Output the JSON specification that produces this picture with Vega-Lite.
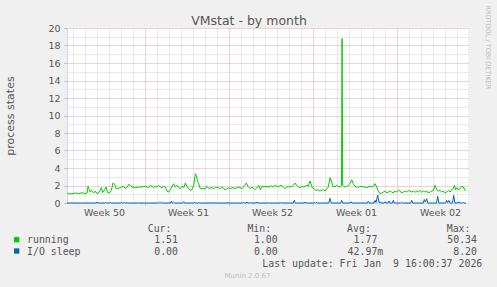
{
  "$schema": "https://vega.github.io/schema/vega-lite/v6.json",
  "width": 401,
  "height": 175,
  "autosize": "none",
  "padding": {"left": 67, "top": 28, "right": 29, "bottom": 84},
  "background": "#F0F0F0",
  "config": {"view": {"fill": "#FFFFFF", "stroke": null}, "font": "DejaVu Sans"},
  "layer": [
    {
      "data": {"values": [
        {"s":"running","h":0,"v":1.18},{"s":"running","h":3.4,"v":1.06},{"s":"running","h":10,"v":1.06},{"s":"running","h":16.6,"v":1.14},{"s":"running","h":23.4,"v":1.06},{"s":"running","h":30,"v":1.18},{"s":"running","h":36.6,"v":1.06},{"s":"running","h":40,"v":1.14},{"s":"running","h":42,"v":1.9},{"s":"running","h":46.6,"v":1.25},{"s":"running","h":48.6,"v":1.44},{"s":"running","h":53.4,"v":1.14},{"s":"running","h":56.6,"v":1.37},{"s":"running","h":60,"v":1.06},{"s":"running","h":64.6,"v":1.25},{"s":"running","h":68.6,"v":1.75},{"s":"running","h":71.4,"v":1.22},{"s":"running","h":75.4,"v":1.52},{"s":"running","h":78,"v":1.83},{"s":"running","h":81.4,"v":1.18},{"s":"running","h":84.6,"v":1.14},{"s":"running","h":88.6,"v":1.44},{"s":"running","h":92,"v":2.28},{"s":"running","h":95.4,"v":2.13},{"s":"running","h":98.6,"v":1.63},{"s":"running","h":103.4,"v":1.71},{"s":"running","h":107.4,"v":1.75},{"s":"running","h":110,"v":1.83},{"s":"running","h":113.4,"v":1.9},{"s":"running","h":116.6,"v":1.67},{"s":"running","h":120.6,"v":1.83},{"s":"running","h":123.4,"v":2.13},{"s":"running","h":126.6,"v":2.02},{"s":"running","h":130,"v":1.83},{"s":"running","h":136.6,"v":1.75},{"s":"running","h":143.4,"v":1.83},{"s":"running","h":150,"v":1.83},{"s":"running","h":156.6,"v":1.9},{"s":"running","h":163.4,"v":1.75},{"s":"running","h":166.6,"v":2.02},{"s":"running","h":170,"v":1.9},{"s":"running","h":173.4,"v":1.75},{"s":"running","h":176.6,"v":1.9},{"s":"running","h":180,"v":1.83},{"s":"running","h":183.4,"v":2.02},{"s":"running","h":186.6,"v":1.83},{"s":"running","h":190,"v":1.75},{"s":"running","h":193.4,"v":1.9},{"s":"running","h":196.6,"v":1.83},{"s":"running","h":200,"v":1.37},{"s":"running","h":203.4,"v":1.25},{"s":"running","h":206.6,"v":1.52},{"s":"running","h":210,"v":1.9},{"s":"running","h":213.4,"v":2.21},{"s":"running","h":216.6,"v":1.83},{"s":"running","h":220,"v":2.02},{"s":"running","h":223.4,"v":1.75},{"s":"running","h":226.6,"v":1.63},{"s":"running","h":230,"v":1.9},{"s":"running","h":233.4,"v":1.75},{"s":"running","h":236.6,"v":2.28},{"s":"running","h":240,"v":1.9},{"s":"running","h":243.4,"v":1.63},{"s":"running","h":246.6,"v":1.44},{"s":"running","h":250,"v":1.52},{"s":"running","h":253.4,"v":2.02},{"s":"running","h":256.6,"v":3.35},{"s":"running","h":258.6,"v":3.16},{"s":"running","h":260.6,"v":2.59},{"s":"running","h":263.4,"v":2.21},{"s":"running","h":266.6,"v":1.63},{"s":"running","h":270,"v":1.63},{"s":"running","h":276.6,"v":1.63},{"s":"running","h":280,"v":1.9},{"s":"running","h":283.4,"v":1.67},{"s":"running","h":290,"v":1.75},{"s":"running","h":293.4,"v":1.63},{"s":"running","h":296.6,"v":1.83},{"s":"running","h":303.4,"v":1.75},{"s":"running","h":306.6,"v":1.63},{"s":"running","h":310,"v":1.83},{"s":"running","h":316.6,"v":1.52},{"s":"running","h":320,"v":1.63},{"s":"running","h":323.4,"v":1.75},{"s":"running","h":326.6,"v":1.63},{"s":"running","h":330,"v":1.75},{"s":"running","h":336.6,"v":1.67},{"s":"running","h":343.4,"v":1.83},{"s":"running","h":350,"v":1.63},{"s":"running","h":355.4,"v":2.02},{"s":"running","h":358.6,"v":2.28},{"s":"running","h":362,"v":1.9},{"s":"running","h":366.6,"v":1.63},{"s":"running","h":370,"v":1.83},{"s":"running","h":375.4,"v":1.52},{"s":"running","h":380,"v":1.75},{"s":"running","h":383.4,"v":2.02},{"s":"running","h":386.6,"v":1.52},{"s":"running","h":390,"v":1.9},{"s":"running","h":396,"v":1.9},{"s":"running","h":406,"v":1.83},{"s":"running","h":409.4,"v":1.98},{"s":"running","h":412.6,"v":1.83},{"s":"running","h":416,"v":2.02},{"s":"running","h":419.4,"v":1.9},{"s":"running","h":422.6,"v":1.83},{"s":"running","h":426,"v":1.98},{"s":"running","h":429.4,"v":2.02},{"s":"running","h":432.6,"v":1.83},{"s":"running","h":436,"v":1.63},{"s":"running","h":439.4,"v":1.83},{"s":"running","h":442.6,"v":1.9},{"s":"running","h":446,"v":1.83},{"s":"running","h":449.4,"v":1.9},{"s":"running","h":452.6,"v":1.98},{"s":"running","h":456,"v":2.28},{"s":"running","h":459.4,"v":2.02},{"s":"running","h":462.6,"v":1.83},{"s":"running","h":466,"v":1.75},{"s":"running","h":469.4,"v":1.9},{"s":"running","h":472.6,"v":1.83},{"s":"running","h":476,"v":1.9},{"s":"running","h":479.4,"v":2.02},{"s":"running","h":482.6,"v":1.9},{"s":"running","h":486,"v":2.51},{"s":"running","h":488,"v":2.21},{"s":"running","h":490.6,"v":1.75},{"s":"running","h":494.6,"v":1.63},{"s":"running","h":497.4,"v":1.44},{"s":"running","h":501.4,"v":1.52},{"s":"running","h":506,"v":1.37},{"s":"running","h":509.4,"v":1.44},{"s":"running","h":512.6,"v":1.52},{"s":"running","h":516,"v":1.37},{"s":"running","h":519.4,"v":1.63},{"s":"running","h":522.6,"v":1.83},{"s":"running","h":526,"v":2.89},{"s":"running","h":529.4,"v":2.4},{"s":"running","h":532.6,"v":1.83},{"s":"running","h":536,"v":1.9},{"s":"running","h":539.4,"v":2.02},{"s":"running","h":542.6,"v":1.9},{"s":"running","h":546.6,"v":1.83},{"s":"running","h":549,"v":2.0},{"s":"running","h":550.2,"v":18.8},{"s":"running","h":551.4,"v":2.0},{"s":"running","h":553.4,"v":1.9},{"s":"running","h":556,"v":1.83},{"s":"running","h":559.4,"v":1.9},{"s":"running","h":562.6,"v":2.02},{"s":"running","h":566,"v":2.21},{"s":"running","h":569.4,"v":2.66},{"s":"running","h":572.6,"v":2.21},{"s":"running","h":576,"v":1.9},{"s":"running","h":579.4,"v":1.83},{"s":"running","h":582.6,"v":1.83},{"s":"running","h":589.4,"v":1.9},{"s":"running","h":596,"v":1.83},{"s":"running","h":599.4,"v":1.75},{"s":"running","h":602.6,"v":1.83},{"s":"running","h":606,"v":1.9},{"s":"running","h":609.4,"v":1.83},{"s":"running","h":612.6,"v":1.9},{"s":"running","h":616,"v":2.21},{"s":"running","h":619.4,"v":1.83},{"s":"running","h":622.6,"v":1.37},{"s":"running","h":626,"v":1.06},{"s":"running","h":629.4,"v":1.14},{"s":"running","h":632.6,"v":1.25},{"s":"running","h":636,"v":1.37},{"s":"running","h":639.4,"v":1.14},{"s":"running","h":642.6,"v":1.25},{"s":"running","h":646,"v":1.37},{"s":"running","h":649.4,"v":1.25},{"s":"running","h":652.6,"v":1.14},{"s":"running","h":656,"v":1.37},{"s":"running","h":659.4,"v":1.25},{"s":"running","h":662.6,"v":1.44},{"s":"running","h":666,"v":1.37},{"s":"running","h":669.4,"v":1.14},{"s":"running","h":672.6,"v":1.25},{"s":"running","h":676,"v":1.37},{"s":"running","h":679.4,"v":1.25},{"s":"running","h":682.6,"v":1.44},{"s":"running","h":689.4,"v":1.25},{"s":"running","h":692.6,"v":1.37},{"s":"running","h":696,"v":1.22},{"s":"running","h":699.4,"v":1.37},{"s":"running","h":702.6,"v":1.25},{"s":"running","h":706,"v":1.44},{"s":"running","h":709.4,"v":1.22},{"s":"running","h":712.6,"v":1.37},{"s":"running","h":716,"v":1.25},{"s":"running","h":719.4,"v":1.37},{"s":"running","h":722.6,"v":1.14},{"s":"running","h":726,"v":1.25},{"s":"running","h":729.4,"v":1.37},{"s":"running","h":732.6,"v":1.44},{"s":"running","h":736,"v":2.02},{"s":"running","h":739.4,"v":1.52},{"s":"running","h":742.6,"v":1.37},{"s":"running","h":746,"v":1.44},{"s":"running","h":749.4,"v":1.25},{"s":"running","h":752.6,"v":1.37},{"s":"running","h":756,"v":1.14},{"s":"running","h":759.4,"v":1.25},{"s":"running","h":762.6,"v":1.44},{"s":"running","h":766,"v":1.25},{"s":"running","h":769.4,"v":1.52},{"s":"running","h":772.6,"v":1.63},{"s":"running","h":774.6,"v":2.02},{"s":"running","h":777.4,"v":1.52},{"s":"running","h":779.4,"v":1.75},{"s":"running","h":782.6,"v":1.52},{"s":"running","h":786,"v":1.63},{"s":"running","h":789.4,"v":1.9},{"s":"running","h":792.6,"v":1.83},{"s":"running","h":796,"v":1.44},{"s":"running","h":798,"v":1.51},
        {"s":"I/O sleep","h":0,"v":0},{"s":"I/O sleep","h":58,"v":0},{"s":"I/O sleep","h":60,"v":0.07},{"s":"I/O sleep","h":62,"v":0},{"s":"I/O sleep","h":74.6,"v":0},{"s":"I/O sleep","h":76.6,"v":0.07},{"s":"I/O sleep","h":78.6,"v":0},{"s":"I/O sleep","h":84.6,"v":0},{"s":"I/O sleep","h":86.6,"v":0.07},{"s":"I/O sleep","h":88.6,"v":0},{"s":"I/O sleep","h":106.6,"v":0},{"s":"I/O sleep","h":108.6,"v":0.07},{"s":"I/O sleep","h":110.6,"v":0},{"s":"I/O sleep","h":113.4,"v":0},{"s":"I/O sleep","h":115.4,"v":0.07},{"s":"I/O sleep","h":117.4,"v":0},{"s":"I/O sleep","h":141.4,"v":0},{"s":"I/O sleep","h":143.4,"v":0.04},{"s":"I/O sleep","h":145.4,"v":0},{"s":"I/O sleep","h":181.4,"v":0},{"s":"I/O sleep","h":183.4,"v":0.1},{"s":"I/O sleep","h":185.4,"v":0},{"s":"I/O sleep","h":186.6,"v":0},{"s":"I/O sleep","h":188.6,"v":0.1},{"s":"I/O sleep","h":190.6,"v":0},{"s":"I/O sleep","h":206.6,"v":0},{"s":"I/O sleep","h":208.6,"v":0.19},{"s":"I/O sleep","h":210.6,"v":0},{"s":"I/O sleep","h":211.4,"v":0},{"s":"I/O sleep","h":213.4,"v":0.1},{"s":"I/O sleep","h":215.4,"v":0},{"s":"I/O sleep","h":231.4,"v":0},{"s":"I/O sleep","h":233.4,"v":0.15},{"s":"I/O sleep","h":235.4,"v":0},{"s":"I/O sleep","h":253.4,"v":0},{"s":"I/O sleep","h":255.4,"v":0.07},{"s":"I/O sleep","h":257.4,"v":0},{"s":"I/O sleep","h":261.4,"v":0},{"s":"I/O sleep","h":263.4,"v":0.07},{"s":"I/O sleep","h":265.4,"v":0},{"s":"I/O sleep","h":288,"v":0},{"s":"I/O sleep","h":290,"v":0.04},{"s":"I/O sleep","h":292,"v":0},{"s":"I/O sleep","h":320,"v":0},{"s":"I/O sleep","h":322,"v":0.04},{"s":"I/O sleep","h":324,"v":0},{"s":"I/O sleep","h":351.4,"v":0},{"s":"I/O sleep","h":353.4,"v":0.07},{"s":"I/O sleep","h":355.4,"v":0},{"s":"I/O sleep","h":358,"v":0},{"s":"I/O sleep","h":360,"v":0.1},{"s":"I/O sleep","h":362,"v":0},{"s":"I/O sleep","h":364.6,"v":0},{"s":"I/O sleep","h":366.6,"v":0.07},{"s":"I/O sleep","h":368.6,"v":0},{"s":"I/O sleep","h":378,"v":0},{"s":"I/O sleep","h":380,"v":0.07},{"s":"I/O sleep","h":382,"v":0},{"s":"I/O sleep","h":400.6,"v":0},{"s":"I/O sleep","h":402.6,"v":0.04},{"s":"I/O sleep","h":404.6,"v":0},{"s":"I/O sleep","h":427.4,"v":0},{"s":"I/O sleep","h":429.4,"v":0.07},{"s":"I/O sleep","h":431.4,"v":0},{"s":"I/O sleep","h":452.6,"v":0},{"s":"I/O sleep","h":454.6,"v":0.3},{"s":"I/O sleep","h":456.6,"v":0},{"s":"I/O sleep","h":474,"v":0},{"s":"I/O sleep","h":476,"v":0.07},{"s":"I/O sleep","h":478,"v":0},{"s":"I/O sleep","h":492.6,"v":0},{"s":"I/O sleep","h":494.6,"v":0.07},{"s":"I/O sleep","h":496.6,"v":0},{"s":"I/O sleep","h":497.4,"v":0},{"s":"I/O sleep","h":499.4,"v":0.07},{"s":"I/O sleep","h":501.4,"v":0},{"s":"I/O sleep","h":523.5,"v":0},{"s":"I/O sleep","h":526,"v":0.53},{"s":"I/O sleep","h":528.5,"v":0},{"s":"I/O sleep","h":547.4,"v":0},{"s":"I/O sleep","h":549.4,"v":0.3},{"s":"I/O sleep","h":551.4,"v":0},{"s":"I/O sleep","h":566,"v":0},{"s":"I/O sleep","h":568,"v":0.15},{"s":"I/O sleep","h":570,"v":0},{"s":"I/O sleep","h":600.6,"v":0},{"s":"I/O sleep","h":602.6,"v":0.19},{"s":"I/O sleep","h":604.6,"v":0},{"s":"I/O sleep","h":614,"v":0},{"s":"I/O sleep","h":616,"v":0.3},{"s":"I/O sleep","h":618,"v":0.05},{"s":"I/O sleep","h":621.4,"v":0.91},{"s":"I/O sleep","h":624,"v":0.05},{"s":"I/O sleep","h":626,"v":0.15},{"s":"I/O sleep","h":628,"v":0},{"s":"I/O sleep","h":634,"v":0},{"s":"I/O sleep","h":636,"v":0.15},{"s":"I/O sleep","h":638,"v":0},{"s":"I/O sleep","h":642,"v":0},{"s":"I/O sleep","h":644,"v":0.23},{"s":"I/O sleep","h":646,"v":0},{"s":"I/O sleep","h":650.6,"v":0},{"s":"I/O sleep","h":652.6,"v":0.3},{"s":"I/O sleep","h":654.6,"v":0},{"s":"I/O sleep","h":667.4,"v":0},{"s":"I/O sleep","h":669.4,"v":0.1},{"s":"I/O sleep","h":671.4,"v":0},{"s":"I/O sleep","h":687.4,"v":0},{"s":"I/O sleep","h":689.4,"v":0.3},{"s":"I/O sleep","h":691.4,"v":0},{"s":"I/O sleep","h":712.6,"v":0},{"s":"I/O sleep","h":714.6,"v":0.4},{"s":"I/O sleep","h":716.6,"v":0.1},{"s":"I/O sleep","h":719.4,"v":0.49},{"s":"I/O sleep","h":721.4,"v":0},{"s":"I/O sleep","h":739,"v":0},{"s":"I/O sleep","h":741.4,"v":0.76},{"s":"I/O sleep","h":743.8,"v":0},{"s":"I/O sleep","h":757.4,"v":0},{"s":"I/O sleep","h":759.4,"v":0.3},{"s":"I/O sleep","h":761.4,"v":0.05},{"s":"I/O sleep","h":764,"v":0.3},{"s":"I/O sleep","h":766,"v":0},{"s":"I/O sleep","h":771,"v":0},{"s":"I/O sleep","h":773.4,"v":0.87},{"s":"I/O sleep","h":775.8,"v":0},{"s":"I/O sleep","h":782,"v":0},{"s":"I/O sleep","h":784,"v":0.15},{"s":"I/O sleep","h":786,"v":0},{"s":"I/O sleep","h":790.6,"v":0},{"s":"I/O sleep","h":792.6,"v":0.07},{"s":"I/O sleep","h":794.6,"v":0},{"s":"I/O sleep","h":798,"v":0}
      ]},
      "mark": {"type": "line", "strokeWidth": 1},
      "encoding": {
        "x": {"field": "h", "type": "quantitative",
          "scale": {"domain": [0, 802], "nice": false, "zero": false},
          "axis": {"orient": "bottom", "title": null, "labels": false,
            "values": [12,36,60,84,108,132,156,180,204,228,252,276,300,324,348,372,396,420,444,468,492,516,540,564,588,612,636,660,684,708,732,756,780],
            "grid": true, "gridDash": [1, 1], "gridOpacity": 1,
            "gridColor": {"condition": {"test": "(datum.value - 156) % 168 === 0", "value": "#e8a2a2"}, "value": "#d2d2d2"},
            "ticks": true, "tickSize": 2,
            "tickColor": {"condition": {"test": "(datum.value - 156) % 168 === 0", "value": "#e8a2a2"}, "value": "transparent"},
            "domain": true, "domainColor": "#CFD6F8", "domainWidth": 1}},
        "y": {"field": "v", "type": "quantitative",
          "scale": {"domain": [0, 20], "nice": false},
          "axis": {"orient": "left",
            "values": [0,1,2,3,4,5,6,7,8,9,10,11,12,13,14,15,16,17,18,19,20],
            "labelExpr": "datum.value % 2 === 0 ? datum.label : ''",
            "labelOverlap": false, "labelFlush": false,
            "labelFont": "DejaVu Sans", "labelFontSize": 9.5, "labelColor": "#555555", "labelPadding": 4,
            "grid": true, "gridDash": [1, 1], "gridOpacity": 1,
            "gridColor": {"condition": {"test": "datum.value % 2 === 0", "value": "#e8a2a2"}, "value": "#d2d2d2"},
            "ticks": true, "tickSize": 3,
            "tickColor": {"condition": {"test": "datum.value % 2 === 0", "value": "#e8a2a2"}, "value": "transparent"},
            "domain": true, "domainColor": "#CFD6F8", "domainWidth": 1,
            "title": "process states", "titleFont": "DejaVu Sans", "titleFontSize": 11, "titleFontWeight": "normal",
            "titleColor": "#555555", "titleAngle": -90, "titleX": -54, "titleY": 87.5,
            "titleAlign": "center", "titleBaseline": "alphabetic"}},
        "color": {"field": "s", "type": "nominal",
          "scale": {"domain": ["running", "I/O sleep"], "range": ["#00CC00", "#0066B3"]},
          "legend": null}
      }
    },
    {
      "mark": {"type": "point", "shape": "triangle-right", "filled": true, "size": 22, "opacity": 1, "color": "#CFD6F8"},
      "encoding": {
        "x": {"datum": 808, "type": "quantitative",
          "scale": {"domain": [0, 802], "nice": false, "zero": false},
          "axis": {"orient": "bottom", "title": null, "values": [74, 242, 410, 578, 746],
            "labelExpr": "datum.value < 100 ? 'Week 50' : datum.value < 300 ? 'Week 51' : datum.value < 500 ? 'Week 52' : datum.value < 650 ? 'Week 01' : 'Week 02'",
            "labelFont": "DejaVu Sans", "labelFontSize": 9.5, "labelColor": "#555555",
            "labelBaseline": "alphabetic", "labelPadding": 12.4, "labelFlush": false, "labelOverlap": false,
            "ticks": false, "tickSize": 0, "domain": false, "grid": false}},
        "y": {"datum": 0, "type": "quantitative", "scale": {"domain": [0, 20], "nice": false}, "axis": null}
      }
    },
    {
      "mark": {"type": "point", "shape": "triangle-up", "filled": true, "size": 24, "opacity": 1, "color": "#CFD6F8"},
      "encoding": {
        "x": {"datum": 1, "type": "quantitative",
          "scale": {"domain": [0, 802], "nice": false, "zero": false},
          "axis": {"orient": "top", "labels": false, "ticks": false, "domain": false, "grid": false,
            "title": "VMstat - by month", "titleFont": "DejaVu Sans", "titleFontSize": 12.5, "titleFontWeight": "normal",
            "titleColor": "#555555", "titleX": 181.5, "titleY": -4, "titleAlign": "center", "titleBaseline": "alphabetic", "titleAngle": 0}},
        "y": {"datum": 20.38, "type": "quantitative", "scale": {"domain": [0, 20], "nice": false},
          "axis": {"orient": "right", "labels": false, "ticks": false, "domain": false, "grid": false,
            "title": "RRDTOOL / TOBI OETIKER", "titleFont": "DejaVu Sans", "titleFontSize": 6.5, "titleFontWeight": "normal",
            "titleColor": "#bdbdbd", "titleAngle": 90, "titleX": 19.5, "titleY": -23, "titleAlign": "left", "titleBaseline": "middle"}}
      }
    },
    {
      "data": {"values": [{"s": "running"}, {"s": "I/O sleep"}]},
      "mark": {"type": "square", "size": 28, "opacity": 1, "filled": true},
      "encoding": {
        "x": {"field": "s", "type": "nominal", "scale": {"type": "point", "domain": ["running", "I/O sleep"], "range": [-50.3, -50.3], "padding": 0}, "axis": null},
        "y": {"field": "s", "type": "nominal", "scale": {"type": "point", "domain": ["running", "I/O sleep"], "range": [211.7, 223.0], "padding": 0}, "axis": null},
        "color": {"field": "s", "type": "nominal", "scale": {"domain": ["running", "I/O sleep"], "range": ["#00CC00", "#0066B3"]}, "legend": null}
      }
    },
    {
      "data": {"values": [{"s": "running"}, {"s": "I/O sleep"}]},
      "mark": {"type": "text", "align": "left", "baseline": "alphabetic", "font": "DejaVu Sans Mono", "fontSize": 9.9, "fill": "#555555"},
      "encoding": {
        "x": {"field": "s", "type": "nominal", "scale": {"type": "point", "domain": ["running", "I/O sleep"], "range": [-40, -40], "padding": 0}, "axis": null},
        "y": {"field": "s", "type": "nominal", "scale": {"type": "point", "domain": ["running", "I/O sleep"], "range": [215.2, 226.9], "padding": 0}, "axis": null},
        "text": {"field": "s"}
      }
    },
    {
      "data": {"values": [
        {"row": "hdr", "col": "cur", "kind": "hdr", "text": "Cur:"},
        {"row": "hdr", "col": "min", "kind": "hdr", "text": "Min:"},
        {"row": "hdr", "col": "avg", "kind": "hdr", "text": "Avg:"},
        {"row": "hdr", "col": "max", "kind": "hdr", "text": "Max:"},
        {"row": "running", "col": "cur", "kind": "val", "text": "1.51"},
        {"row": "running", "col": "min", "kind": "val", "text": "1.00"},
        {"row": "running", "col": "avg", "kind": "val", "text": "1.77"},
        {"row": "running", "col": "max", "kind": "val", "text": "50.34"},
        {"row": "io", "col": "cur", "kind": "val", "text": "0.00"},
        {"row": "io", "col": "min", "kind": "val", "text": "0.00"},
        {"row": "io", "col": "avg", "kind": "val", "text": "42.97"},
        {"row": "io", "col": "avg", "kind": "suf", "text": "m"},
        {"row": "io", "col": "max", "kind": "val", "text": "8.20"},
        {"row": "upd", "col": "max", "kind": "upd", "text": "Last update: Fri Jan\u00a0\u00a09 16:00:37 2026"},
        {"row": "munin", "col": "min", "kind": "munin", "text": "Munin 2.0.67"}
      ]},
      "encoding": {
        "x": {"field": "col", "type": "nominal",
          "scale": {"type": "point", "domain": ["cur", "min", "avg", "max"], "range": [111, 410], "padding": 0}, "axis": null},
        "y": {"field": "row", "type": "nominal",
          "scale": {"type": "point", "domain": ["hdr", "running", "io", "upd", "munin"], "range": [203.5, 250.2], "padding": 0}, "axis": null},
        "text": {"field": "text"}
      },
      "layer": [
        {"transform": [{"filter": "datum.kind === 'hdr'"}],
          "mark": {"type": "text", "align": "right", "baseline": "alphabetic", "dx": -6.5, "font": "DejaVu Sans Mono", "fontSize": 9.9, "fill": "#555555"}},
        {"transform": [{"filter": "datum.kind === 'val'"}],
          "mark": {"type": "text", "align": "right", "baseline": "alphabetic", "font": "DejaVu Sans Mono", "fontSize": 9.9, "fill": "#555555"}},
        {"transform": [{"filter": "datum.kind === 'suf'"}],
          "mark": {"type": "text", "align": "left", "baseline": "alphabetic", "font": "DejaVu Sans Mono", "fontSize": 9.9, "fill": "#555555"}},
        {"transform": [{"filter": "datum.kind === 'upd'"}],
          "mark": {"type": "text", "align": "right", "baseline": "alphabetic", "dx": 5.3, "font": "DejaVu Sans Mono", "fontSize": 9.9, "fill": "#555555"}},
        {"transform": [{"filter": "datum.kind === 'munin'"}],
          "mark": {"type": "text", "align": "center", "baseline": "alphabetic", "dx": -30.2, "font": "DejaVu Sans", "fontSize": 7, "fill": "#bdbdbd"}}
      ]
    }
  ],
  "resolve": {"scale": {"x": "independent", "y": "independent"}, "axis": {"x": "independent", "y": "independent"}}
}
